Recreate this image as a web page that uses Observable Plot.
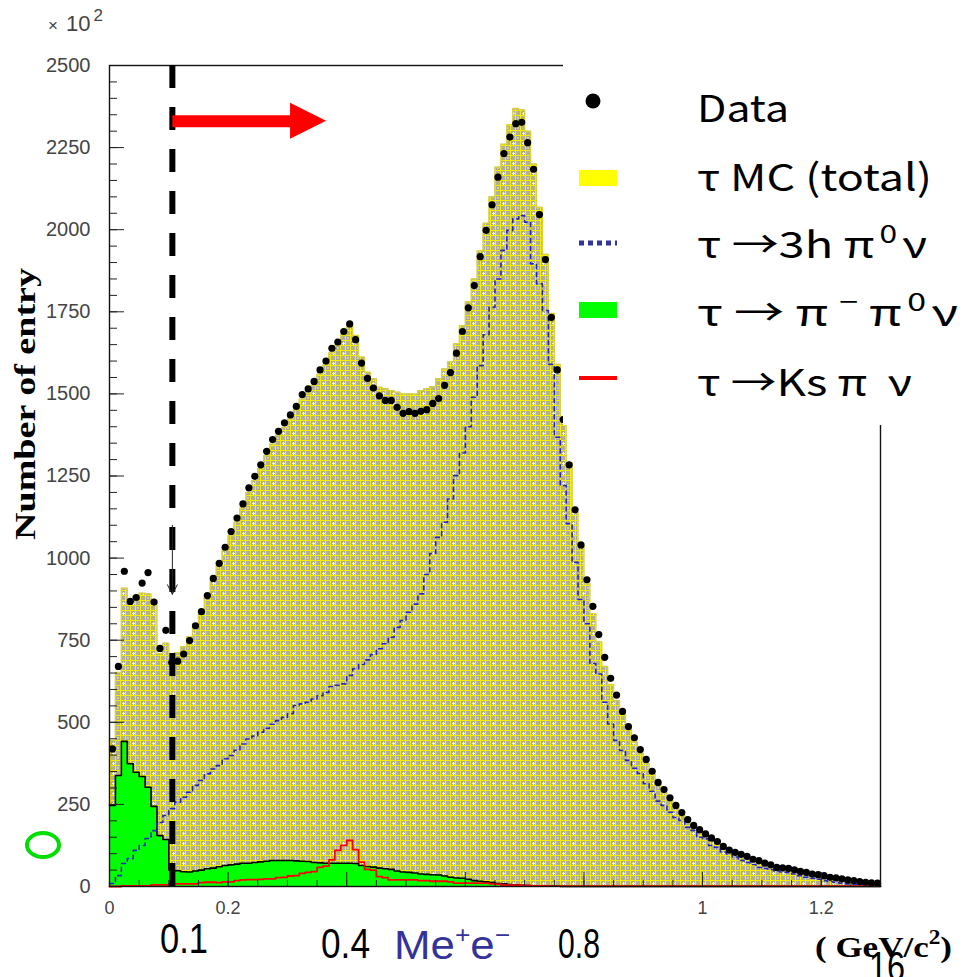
<!DOCTYPE html>
<html><head><meta charset="utf-8">
<script src="https://cdn.jsdelivr.net/npm/d3@7"></script>
<script src="https://cdn.jsdelivr.net/npm/@observablehq/plot@0.6"></script>
<style>body{margin:0;background:#fff}</style>
</head><body>
<svg width="0" height="0" style="position:absolute"><defs>
<pattern id="mc" width="10" height="10" patternUnits="userSpaceOnUse">
<rect width="10" height="10" fill="#f4f000"/>
<rect x="1" y="1" width="4" height="4" fill="#ada98f"/>
<rect x="6" y="1" width="4" height="4" fill="#b3af95"/>
<rect x="1" y="6" width="4" height="4" fill="#b3af95"/>
<rect x="6" y="6" width="4" height="4" fill="#ada98f"/>
<rect x="2" y="3" width="3" height="1" fill="#f4f4ee"/>
<rect x="3" y="2" width="1" height="3" fill="#f4f4ee"/>
<rect x="7" y="7" width="2" height="2" fill="#cfcdbd"/>
</pattern></defs></svg>
<div id="chart"></div>
<script>
const binWidth = 0.01;
const dataCounts = [419,670,960,868,880,924,956,866,725,780,682,686,708,749,794,837,886,938,984,1033,
1081,1122,1165,1214,1249,1284,1325,1361,1386,1412,1436,1462,1498,1515,1538,1573,1600,1639,1658,1690,
1713,1665,1594,1547,1518,1494,1480,1480,1459,1441,1446,1441,1447,1452,1471,1486,1526,1565,1624,1690,
1762,1830,1918,1998,2076,2160,2232,2282,2323,2327,2265,2184,2046,1909,1733,1573,1422,1284,1147,1040,
934,853,767,698,634,583,533,487,453,417,387,351,317,295,270,247,225,204,186,173,
160,148,137,122,111,104,98,92,83,79,71,66,58,57,55,51,46,43,38,36,
33,28,26,23,20,18,15,13,11,10];
const mcTotal = [445,652,908,866,886,893,891,870,709,741,700,712,730,760,800,840,885,932,978,1025,
1068,1110,1152,1200,1236,1272,1312,1347,1374,1398,1423,1450,1484,1502,1526,1560,1588,1625,1648,1680,
1710,1678,1612,1566,1546,1520,1516,1510,1505,1500,1500,1500,1510,1516,1522,1546,1576,1597,1653,1708,
1780,1850,1935,2020,2100,2190,2260,2320,2369,2365,2300,2200,2068,1925,1745,1590,1430,1290,1140,1038,
921,831,745,670,615,566,526,480,440,405,375,345,312,285,262,240,218,198,182,168,
155,143,132,120,110,101,94,88,80,75,70,64,58,55,52,48,44,41,37,34,
31,28,25,22,20,18,16,14,12,11];
const mc3hPi0Nu = [9,33,70,85,110,125,146,170,195,216,237,257,272,287,308,323,343,358,368,389,
399,415,434,449,458,470,482,494,505,515,526,551,556,561,571,581,591,609,613,617,
643,663,676,690,706,724,739,759,789,810,835,860,891,950,1014,1063,1109,1180,1251,1320,
1400,1490,1586,1680,1764,1850,1937,1998,2033,2043,2023,1896,1835,1754,1590,1368,1221,1105,987,874,
800,679,647,561,495,445,414,384,360,344,313,290,260,247,226,210,201,180,171,150,
145,125,119,105,99,90,79,73,67,58,55,51,47,44,43,38,33,28,25,22,
18,15,12,10,8,7,6,5,4,3];
const mcPiPi0Nu = [247,338,442,374,348,335,302,244,155,143,50,48,45,44,47,50,54,56,60,64,
66,68,71,71,73,75,77,79,79,79,79,78,77,76,73,72,71,71,71,71,
71,70,64,61,59,56,54,52,47,44,43,41,38,37,36,35,32,28,26,25,
22,18,16,14,12,9,8,6,5,4,3,2,2,1,1,1,0,0,0,0,
0,0,0,0,0,0,0,0,0,0,0,0,0,0,0,0,0,0,0,0,
0,0,0,0,0,0,0,0,0,0,0,0,0,0,0,0,0,0,0,0,
0,0,0,0,0,0,0,0,0,0];
const mcKsPiNu = [0,0,2,2,2,2,2,5,5,5,8,8,8,8,8,12,13,13,12,14,
14,18,20,21,21,22,23,23,27,28,32,33,40,43,45,58,62,81,110,125,
140,112,74,52,50,30,27,20,20,20,20,20,18,18,16,16,16,14,10,10,
10,10,10,10,8,7,4,4,4,4,3,2,2,2,1,1,1,1,1,1,
1,1,1,1,1,1,1,1,1,1,1,1,1,1,1,1,1,1,1,1,
1,1,1,1,1,1,1,1,1,1,1,1,1,1,1,1,1,1,1,1,
1,1,1,1,1,1,1,1,1,1];
const yTickLabels = [0,250,500,750,1000,1250,1500,1750,2000,2250,2500];
const yMinorTicks = d3.range(0, 2501, 50);
const xTickLabels = [0, 0.2, 1, 1.2];
const xMajorTicks = [0,0.2,0.4,0.6,0.8,1.0,1.2];
const xMinorTicks = d3.range(0, 1.3, 0.05);
const cutValue = 0.106;
const legendLabels = ["Data", "τ MC (total)", "τ →3h π", "τ → π", "τ →Ks π  ν"];

const W = 963, H = 977, mL = 109, mR = 83, mT = 65, mB = 91;
const pxX = (W - mL - mR) / 1.3, pxY = (H - mT - mB) / 2500;

function steps(vals) {
  const s = vals.map((v, i) => ({x: i * binWidth, y: v}));
  s.push({x: vals.length * binWidth, y: vals[vals.length - 1]});
  return s;
}
const dataPts = dataCounts.map((v, i) => ({x: (i + 0.5) * binWidth, y: v}));

const chart = Plot.plot({
  width: W, height: H, marginLeft: mL, marginRight: mR, marginTop: mT, marginBottom: mB,
  x: {domain: [0, 1.3]},
  y: {domain: [0, 2500]},
  style: {fontFamily: "'Liberation Sans', Arial, sans-serif", background: "white", overflow: "visible"},
  marks: [
    Plot.areaY(steps(mcTotal), {x: "x", y: "y", curve: "step-after", fill: "#ffff00", className: "mcfill"}),
    Plot.lineY(steps(mcTotal), {x: "x", y: "y", curve: "step-after", stroke: "#d8d040", strokeWidth: 1.4}),
    Plot.areaY(steps(mcPiPi0Nu), {x: "x", y: "y", curve: "step-after", fill: "#00ff00"}),
    Plot.lineY(steps(mcPiPi0Nu), {x: "x", y: "y", curve: "step-after", stroke: "#000", strokeWidth: 1.6}),
    Plot.lineY(steps(mc3hPi0Nu), {x: "x", y: "y", curve: "step-after", stroke: "#2626c4", strokeWidth: 1.6, strokeDasharray: "4,4"}),
    Plot.lineY(steps(mcKsPiNu), {x: "x", y: "y", curve: "step-after", stroke: "#ff0000", strokeWidth: 1.8}),
    Plot.dot(dataPts, {x: "x", y: "y", r: 3.6, fill: "black"}),
    Plot.ruleY(yMinorTicks, {y: d => d, x1: 0, x2: 8 / pxX, stroke: "#222"}),
    Plot.ruleY(yTickLabels, {y: d => d, x1: 0, x2: 15 / pxX, stroke: "#222"}),
    Plot.ruleX(xMinorTicks, {x: d => d, y1: 0, y2: 6 / pxY, stroke: "#222"}),
    Plot.ruleX(xMajorTicks, {x: d => d, y1: 0, y2: 14 / pxY, stroke: "#222"}),
    Plot.frame({stroke: "#111", strokeWidth: 1.4}),
    Plot.ruleX([cutValue], {stroke: "black", strokeWidth: 6, strokeDasharray: "23,19"}),
    Plot.arrow([0], {x1: cutValue, x2: cutValue, y1: 1100, y2: 890, stroke: "#222", strokeWidth: 1, headLength: 16, headAngle: 55}),
    Plot.link([0], {x1: cutValue, x2: 0.31, y1: 2330, y2: 2330, stroke: "#ff0000", strokeWidth: 12}),
    Plot.axisY({ticks: yTickLabels, tickSize: 0, tickPadding: 19, fontSize: 20, fill: "#444", label: null, tickFormat: d => String(d)}),
    Plot.axisX({ticks: xTickLabels, tickSize: 0, tickPadding: 15, fontSize: 18, fill: "#444", label: null, tickFormat: d => String(d)})
  ]
});
document.getElementById("chart").appendChild(chart);

const svg = d3.select(chart);
svg.selectAll("g.mcfill, g.mcfill path").attr("fill", "url(#mc)");
const sx = chart.scale("x"), sy = chart.scale("y");

// red arrow head
const tipX = sx.apply(0.366), tipY = sy.apply(2330);
svg.append("path").attr("d", `M${tipX},${tipY} L${tipX - 36},${tipY - 18} L${tipX - 36},${tipY + 18} Z`).attr("fill", "#ff0000");

// legend panel
const lg = svg.append("g").attr("text-anchor", "start");
lg.append("rect").attr("x", 563).attr("y", 0).attr("width", 400).attr("height", 425).attr("fill", "white");
lg.append("circle").attr("cx", 593).attr("cy", 101).attr("r", 7.5).attr("fill", "black");
lg.append("rect").attr("x", 579).attr("y", 170).attr("width", 38).attr("height", 16).attr("fill", "#ffff00");
lg.append("line").attr("x1", 579).attr("x2", 617).attr("y1", 243).attr("y2", 243).attr("stroke", "#333399").attr("stroke-width", 5).attr("stroke-dasharray", "5,4");
lg.append("rect").attr("x", 579).attr("y", 302).attr("width", 38).attr("height", 16).attr("fill", "#00ff00");
lg.append("line").attr("x1", 579).attr("x2", 617).attr("y1", 378).attr("y2", 378).attr("stroke", "#ff0000").attr("stroke-width", 4);

const legendFont = "'Noto Sans CJK JP', 'Noto Sans', sans-serif";
function legText(y, len, parts) {
  const t = lg.append("text").attr("x", 697).attr("y", y).attr("font-family", legendFont).attr("font-size", 37).attr("fill", "black")
    .attr("textLength", len).attr("lengthAdjust", "spacingAndGlyphs");
  parts.forEach(p => {
    const s = t.append("tspan").text(p.t);
    if (p.sup) s.attr("font-size", 25).attr("dy", -15).attr("dx", p.dx || 4);
    else if (p.after) s.attr("dy", 15).attr("dx", p.dx || 4);
    else if (p.dx) s.attr("dx", p.dx);
  });
  return t;
}
legText(122, 92, [{t: legendLabels[0]}]);
legText(191, 235, [{t: legendLabels[1]}]);
legText(258, 230, [{t: legendLabels[2]}, {t: "0", sup: true}, {t: "ν", after: true}]);
legText(326, 261, [{t: legendLabels[3]}, {t: "−", sup: true, dx: 8}, {t: "π", after: true, dx: 8}, {t: "0", sup: true}, {t: "ν", after: true}]);
legText(396, 215, [{t: legendLabels[4]}]);

// annotations
const ann = svg.append("g").attr("text-anchor", "start");
ann.append("text").attr("x", 48).attr("y", 31).attr("font-size", 22).attr("fill", "#444")
  .call(t => { t.append("tspan").text("×").attr("font-size", 17); t.append("tspan").text("10").attr("dx", 8); t.append("tspan").text("2").attr("font-size", 17).attr("dy", -10).attr("dx", 3); });
ann.append("text").attr("transform", "translate(35,404) rotate(-90)").attr("text-anchor", "middle")
  .attr("font-family", "'Liberation Serif', 'Times New Roman', serif").attr("font-weight", "bold").attr("font-size", 29)
  .attr("textLength", 272).attr("lengthAdjust", "spacingAndGlyphs").text("Number of entry");
ann.append("ellipse").attr("cx", 43).attr("cy", 845).attr("rx", 16).attr("ry", 12).attr("fill", "none").attr("stroke", "#00dd00").attr("stroke-width", 4);
function big(x, y, txt, len, color) {
  return ann.append("text").attr("x", x).attr("y", y).attr("font-size", 43).attr("fill", color || "black")
    .attr("textLength", len).attr("lengthAdjust", "spacingAndGlyphs").text(txt);
}
big(160, 953, "0.1", 48);
big(321, 958, "0.4", 49);
big(558, 958, "0.8", 42);
ann.append("text").attr("x", 394).attr("y", 959).attr("font-size", 40).attr("fill", "#333399")
  .attr("textLength", 116).attr("lengthAdjust", "spacingAndGlyphs")
  .call(t => {
    t.append("tspan").text("Me");
    t.append("tspan").text("+").attr("font-size", 24).attr("dy", -16);
    t.append("tspan").text("e").attr("dy", 16);
    t.append("tspan").text("−").attr("font-size", 24).attr("dy", -16);
  });
ann.append("text").attr("x", 815).attr("y", 957).attr("font-family", "'Liberation Serif', serif").attr("font-weight", "bold").attr("font-size", 30)
  .attr("textLength", 137).attr("lengthAdjust", "spacingAndGlyphs")
  .call(t => {
    t.append("tspan").text("( GeV/c");
    t.append("tspan").text("2").attr("font-size", 20).attr("dy", -13);
    t.append("tspan").text(")").attr("dy", 13);
  });
big(869, 981, "16", 36);
</script>
</body></html>
